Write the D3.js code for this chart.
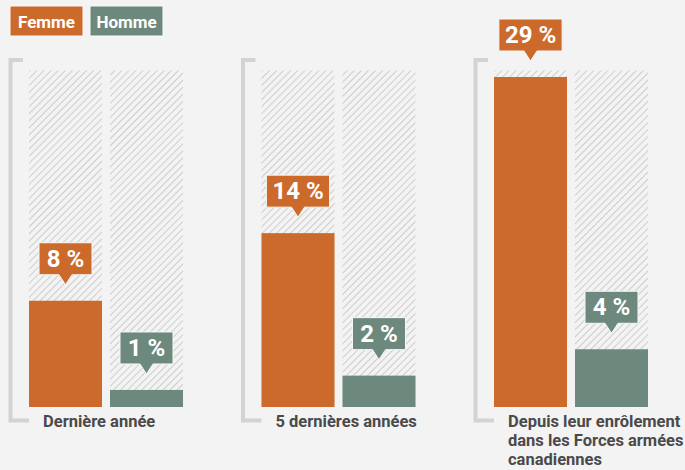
<!DOCTYPE html>
<html>
<head>
<meta charset="utf-8">
<script src="https://cdn.jsdelivr.net/npm/d3@7"></script>
<style>
  html, body { margin: 0; padding: 0; background: #f3f3f3; }
  svg { display: block; font-family: Roboto, "Open Sans", sans-serif; }
</style>
</head>
<body>
<div id="container"></div>
<script>
const categories = [
    ["Dernière année"],
    ["5 dernières années"],
    ["Depuis leur enrôlement", "dans les Forces armées", "canadiennes"]
];
const series = ["Femme", "Homme"];
const femme = [8, 14, 29];
const homme = [1, 2, 4];

const colors = { "Femme": "#cc6a2b", "Homme": "#6d897d" };

const width = 685, height = 470;
const plotBottom = 407, plotTop = 70.5;

const svg = d3.select("#container").append("svg")
    .attr("width", width)
    .attr("height", height);

// hatch pattern for the empty columns
const defs = svg.append("defs");
defs.append("pattern")
    .attr("id", "hatch")
    .attr("patternUnits", "userSpaceOnUse")
    .attr("width", 5)
    .attr("height", 5)
    .attr("patternTransform", "rotate(45)")
  .append("line")
    .attr("x1", 0).attr("y1", 0)
    .attr("x2", 0).attr("y2", 5)
    .attr("stroke", "#c9c9c9")
    .attr("stroke-width", 1.8);

const rows = categories.map((c, i) => ({
    lines: c,
    values: [{ key: "Femme", v: femme[i] }, { key: "Homme", v: homme[i] }]
}));

const x0 = d3.scaleBand()
    .domain(d3.range(categories.length))
    .range([29, 29 + 232.5 * categories.length]);

const x1 = d3.scaleBand()
    .domain(series)
    .range([0, 154])
    .paddingInner(8 / 81);

const y = d3.scalePow()
    .exponent(0.88)
    .domain([0, 29])
    .range([plotBottom, 77]);

// legend
const legend = svg.append("g");
series.forEach((s, i) => {
    const g = legend.append("g").attr("transform", `translate(${10 + i * 80},6)`);
    g.append("rect")
        .attr("width", 73).attr("height", 30)
        .attr("fill", colors[s])
        .attr("stroke", "#fafafa").attr("stroke-width", 1);
    g.append("text")
        .attr("x", 36.5).attr("y", 21.5)
        .attr("text-anchor", "middle")
        .attr("fill", "#fff")
        .attr("font-size", 17)
        .attr("font-weight", 700)
        .text(s);
});

const groups = svg.selectAll("g.group")
    .data(rows)
  .enter().append("g")
    .attr("class", "group")
    .attr("transform", (d, i) => `translate(${x0(i)},0)`);

// bracket
groups.append("path")
    .attr("d", `M-6,60 H-18.5 V420.5 H0`)
    .attr("fill", "none")
    .attr("stroke", "#d3d3d3")
    .attr("stroke-width", 4);

// hatched background columns
groups.selectAll("rect.bg")
    .data(d => d.values)
  .enter().append("rect")
    .attr("class", "bg")
    .attr("x", d => x1(d.key))
    .attr("y", plotTop)
    .attr("width", x1.bandwidth())
    .attr("height", plotBottom - plotTop)
    .attr("fill", "url(#hatch)");

// bars
groups.selectAll("rect.bar")
    .data(d => d.values)
  .enter().append("rect")
    .attr("class", "bar")
    .attr("x", d => x1(d.key))
    .attr("y", d => y(d.v))
    .attr("width", x1.bandwidth())
    .attr("height", d => plotBottom - y(d.v))
    .attr("fill", d => colors[d.key]);

// callouts
const callout = groups.selectAll("g.callout")
    .data(d => d.values)
  .enter().append("g")
    .attr("class", "callout")
    .attr("transform", d => `translate(${x1(d.key) + x1.bandwidth() / 2},${y(d.v) - 16})`);

callout.each(function(d) {
    const g = d3.select(this);
    const txt = g.append("text")
        .attr("text-anchor", "middle")
        .attr("y", -18)
        .attr("fill", "#fff")
        .attr("font-size", 24)
        .attr("font-weight", 700)
        .text(`${d.v} %`);
    const w = Math.max(53, txt.node().getComputedTextLength() + 12);
    const h = 32, hw = w / 2;
    g.insert("path", "text")
        .attr("d", `M${-hw},${-10 - h} H${hw} V-10 H6.5 L0,0 L-6.5,-10 H${-hw} Z`)
        .attr("fill", colors[d.key])
        .attr("stroke", "#f7f7f7")
        .attr("stroke-width", 1);
});

// category labels
groups.append("text")
    .attr("x", 14)
    .attr("y", 427)
    .attr("fill", "#4a4a4a")
    .attr("font-size", 16.5)
    .attr("font-weight", 700)
    .selectAll("tspan")
    .data(d => d.lines)
  .enter().append("tspan")
    .attr("x", 14)
    .attr("dy", (d, i) => i === 0 ? 0 : 19)
    .text(d => d);
</script>
</body>
</html>
